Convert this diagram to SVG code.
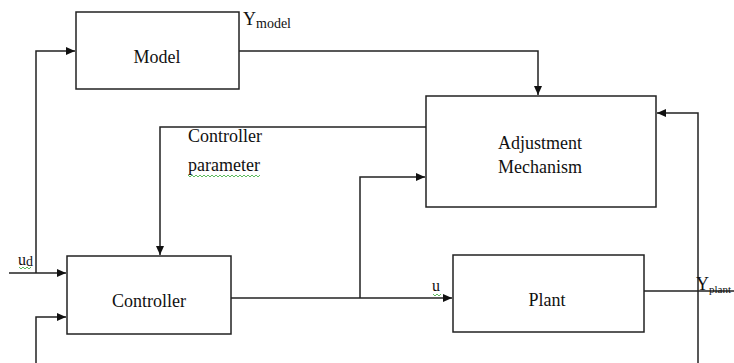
<svg xmlns="http://www.w3.org/2000/svg" width="734" height="363" viewBox="0 0 734 363">
<style>
.box{fill:#fff;stroke:#222;stroke-width:1.5}
.ln{fill:none;stroke:#222;stroke-width:1.5}
text{font-family:'Liberation Serif','DejaVu Serif','Times New Roman',serif;font-size:18px;fill:#111}
.s{font-size:14px}
.sq{fill:none;stroke:#3a3;stroke-width:0.8}
</style>
<defs>
<marker id="ah" markerWidth="10" markerHeight="10" refX="9" refY="5" orient="auto" markerUnits="userSpaceOnUse">
<path d="M0,1 L9,5 L0,9 Z" fill="#111"/>
</marker>
</defs>
<g id="connectors">
<path class="ln" d="M36,363 L36,317 L66,317" marker-end="url(#ah)"/>
<path class="ln" d="M9,273 L66,273" marker-end="url(#ah)"/>
<path class="ln" d="M36,273 L36,51 L75,51" marker-end="url(#ah)"/>
<path class="ln" d="M239,51 L538,51 L538,95" marker-end="url(#ah)"/>
<path class="ln" d="M426,127 L160,127 L160,255" marker-end="url(#ah)"/>
<path class="ln" d="M231,298 L452,298" marker-end="url(#ah)"/>
<path class="ln" d="M360,298 L360,177 L425,177" marker-end="url(#ah)"/>
<path class="ln" d="M644,291 L734,291"/>
<path class="ln" d="M698,363 L698,113 L657,113" marker-end="url(#ah)"/>
</g>
<g id="model">
<rect class="box" x="76" y="12" width="163" height="77"/>
<text x="157" y="63" text-anchor="middle">Model</text>
</g>
<g id="adjustment">
<rect class="box" x="426" y="96" width="230" height="111"/>
<text x="540" y="149" text-anchor="middle">Adjustment</text>
<text x="540" y="173" text-anchor="middle">Mechanism</text>
</g>
<g id="controller">
<rect class="box" x="67" y="256" width="164" height="78"/>
<text x="149" y="307" text-anchor="middle">Controller</text>
</g>
<g id="plant">
<rect class="box" x="453" y="255" width="191" height="77"/>
<text x="547" y="306" text-anchor="middle">Plant</text>
</g>
<g id="labels">
<text x="243" y="25">Y<tspan class="s" dy="3">model</tspan></text>
<text x="188" y="142">Controller</text>
<text x="188" y="171">parameter</text>
<text x="18" y="265" style="font-size:16px">u<tspan class="s" dy="1">d</tspan></text>
<text x="432" y="291" style="font-size:16px">u</text>
<text x="696" y="290">Y<tspan dy="3" style="font-size:11px">plant</tspan></text>
<path class="sq" d="M188,175 l2,2 l2,-2 l2,2 l2,-2 l2,2 l2,-2 l2,2 l2,-2 l2,2 l2,-2 l2,2 l2,-2 l2,2 l2,-2 l2,2 l2,-2 l2,2 l2,-2 l2,2 l2,-2 l2,2 l2,-2 l2,2 l2,-2 l2,2 l2,-2 l2,2 l2,-2 l2,2 l2,-2 l2,2 l2,-2 l2,2 l2,-2 l2,2 l2,-2"/>
<path class="sq" d="M19,267 l2,2 l2,-2 l2,2 l2,-2 l2,2 l2,-2"/>
<path class="sq" d="M433,294 l2,2 l2,-2 l2,2 l2,-2"/>
</g>
</svg>
